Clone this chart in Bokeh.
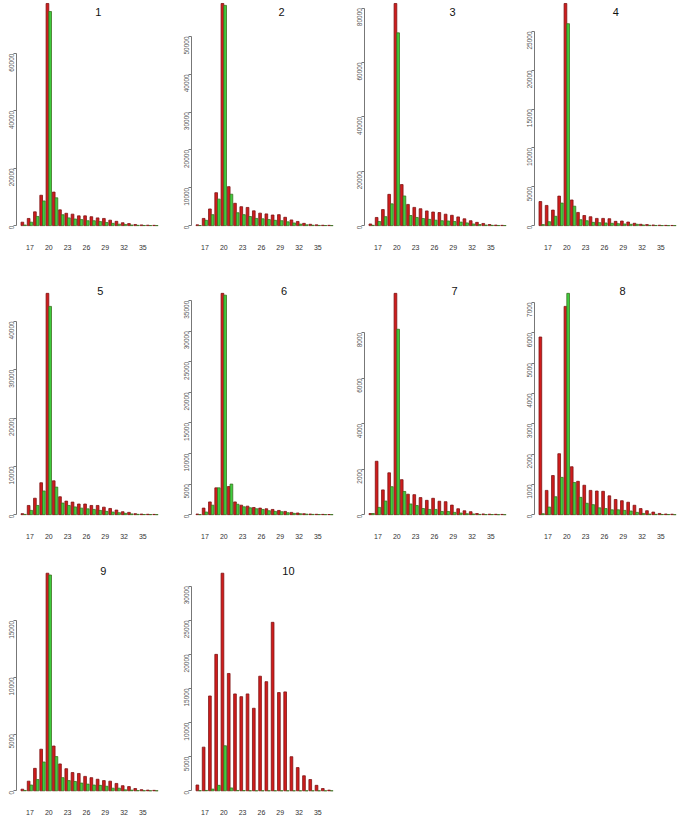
import math
from bokeh.plotting import figure
from bokeh.layouts import column, row
from bokeh.models import FixedTicker, Label, Range1d, ColumnDataSource
from bokeh.transform import dodge
from bokeh.embed import file_html
from bokeh.resources import INLINE

# ---------------- data ----------------
categories = list(range(16, 38))
xtick_labels = [17, 20, 23, 26, 29, 32, 35]
panel_titles = ["1", "2", "3", "4", "5", "6", "7", "8", "9", "10"]

red_1 = [1200, 2500, 4800, 10600, 77500, 11700, 5500, 4300, 4000, 3400, 3400, 3100, 2700, 2500, 1900, 1500, 1000, 700, 400, 250, 150, 100]
green_1 = [200, 1200, 3200, 8600, 74700, 9700, 3800, 2700, 2300, 2100, 1700, 1700, 1400, 1100, 800, 500, 400, 200, 100, 50, 30, 20]
red_2 = [200, 1900, 4400, 8700, 58700, 10300, 5900, 5000, 4800, 3900, 3300, 3100, 2800, 2900, 2200, 1500, 1100, 600, 350, 200, 100, 80]
green_2 = [30, 1400, 2900, 7000, 58200, 8300, 3400, 2900, 2400, 1900, 1800, 1600, 1400, 1300, 1000, 700, 400, 200, 100, 50, 30, 10]
red_3 = [600, 3000, 5900, 11500, 81700, 15100, 7800, 6700, 6200, 5400, 5000, 4800, 4200, 3800, 3200, 2500, 1800, 1200, 800, 400, 200, 100]
green_3 = [100, 1500, 3300, 8000, 70900, 10900, 3700, 3000, 2600, 2300, 2000, 1800, 1700, 1500, 1300, 1000, 600, 400, 200, 100, 50, 30]
red_4 = [3100, 2600, 2000, 3800, 28600, 3300, 1700, 1300, 1140, 930, 930, 890, 550, 590, 460, 300, 170, 130, 80, 50, 30, 20]
green_4 = [130, 500, 1200, 2900, 26000, 2500, 760, 630, 420, 380, 340, 300, 250, 210, 170, 170, 80, 40, 20, 10, 5, 5]
red_5 = [200, 1900, 3400, 6600, 45800, 7000, 3700, 2800, 2600, 2200, 2200, 1900, 1900, 1550, 1280, 950, 600, 470, 200, 120, 80, 50]
green_5 = [50, 880, 1900, 4900, 43100, 5700, 2400, 1900, 1600, 1350, 1200, 1080, 880, 680, 540, 400, 270, 150, 60, 30, 20, 10]
red_6 = [100, 1070, 2080, 4380, 36200, 4600, 2080, 1550, 1390, 1170, 1070, 960, 850, 690, 530, 370, 270, 150, 100, 60, 40, 20]
green_6 = [10, 430, 1550, 4380, 35900, 5000, 1700, 1280, 1120, 960, 850, 640, 530, 480, 320, 210, 150, 80, 40, 20, 10, 5]
red_7 = [50, 2350, 1090, 1840, 9740, 1540, 900, 880, 750, 630, 720, 590, 570, 420, 260, 170, 130, 50, 30, 20, 15, 10]
green_7 = [50, 320, 600, 1230, 8160, 1020, 470, 400, 270, 230, 230, 140, 140, 100, 70, 40, 30, 10, 5, 5, 0, 0]
red_8 = [5860, 800, 1290, 2010, 6870, 1580, 1100, 970, 800, 780, 770, 620, 500, 460, 410, 310, 200, 130, 85, 40, 20, 15]
green_8 = [30, 250, 590, 1230, 7300, 1060, 570, 375, 330, 225, 200, 160, 160, 140, 120, 75, 40, 20, 10, 5, 5, 0]
red_9 = [140, 850, 1980, 3670, 19200, 3950, 2370, 1950, 1610, 1530, 1270, 1160, 1020, 900, 850, 650, 450, 370, 200, 100, 60, 40]
green_9 = [30, 510, 990, 2540, 19040, 3020, 1160, 900, 820, 680, 590, 510, 480, 400, 230, 230, 85, 60, 20, 10, 5, 5]
red_10 = [850, 6400, 13900, 20000, 31900, 17200, 14200, 13800, 14200, 12100, 16800, 16000, 24700, 14400, 14500, 5000, 3400, 2200, 1650, 800, 330, 100]
green_10 = [20, 50, 250, 800, 6600, 420, 50, 30, 10, 5, 5, 5, 5, 5, 5, 0, 0, 0, 0, 0, 0, 0]

reds = [red_1, red_2, red_3, red_4, red_5, red_6, red_7, red_8, red_9, red_10]
greens = [green_1, green_2, green_3, green_4, green_5, green_6, green_7, green_8, green_9, green_10]

# y axis ticks (step, last tick shown)
ytick_step = [20000, 10000, 20000, 5000, 10000, 5000, 2000, 1000, 5000, 5000]
ytick_last = [60000, 50000, 80000, 25000, 40000, 35000, 8000, 7000, 15000, 30000]

# ---------------- layout / style ----------------
RED_FILL, RED_LINE = "#d01c1c", "#7d1414"
GREEN_FILL, GREEN_LINE = "#3fce3f", "#3c7020"
col_left = [16, 29, 27, 24]
frame_w = 146
x_lo, x_hi = 14.85, 38.13
title_x = [27.9, 29.2, 28.9, 27.8, 28.2, 29.6, 29.2, 28.9, 28.7, 30.3]
row_frame_h = [234, 239, 238]
row_top = [0, 10, 10]
row_bottom = [40, 31, 15]
row_top_frac = [1.0135, 1.04, 1.04]
row_title_frac = [0.05, 0.026, 0.026]

figs = []
for i in range(10):
    r, c = divmod(i, 4)
    M = max(max(reds[i]), max(greens[i]))
    lo, hi = -0.04 * M, row_top_frac[r] * M
    w = col_left[c] + frame_w
    h = row_top[r] + row_frame_h[r] + row_bottom[r]
    p = figure(width=w, height=h, output_backend="svg", toolbar_location=None,
               x_range=Range1d(x_lo, x_hi), y_range=Range1d(lo, hi),
               min_border_left=col_left[c], min_border_right=0,
               min_border_top=row_top[r], min_border_bottom=row_bottom[r],
               outline_line_color=None, background_fill_color="white",
               border_fill_color="white")
    p.xgrid.visible = False
    p.ygrid.visible = False

    src = ColumnDataSource(dict(cat=categories, red=reds[i], green=greens[i]))
    p.vbar(x=dodge("cat", -0.215), top="red", bottom=0, width=0.43, source=src,
           fill_color=RED_FILL, line_color=RED_LINE, line_width=0.8)
    p.vbar(x=dodge("cat", 0.215), top="green", bottom=0, width=0.43, source=src,
           fill_color=GREEN_FILL, line_color=GREEN_LINE, line_width=0.8)

    # x axis: labels only
    xa = p.xaxis[0]
    xa.ticker = FixedTicker(ticks=xtick_labels)
    xa.axis_line_color = None
    xa.major_tick_line_color = None
    xa.minor_tick_line_color = None
    xa.major_label_standoff = 4
    xa.major_label_text_font = "Liberation Sans"
    xa.major_label_text_font_size = "7px"
    xa.major_label_text_color = "#333333"

    # y axis: R-style
    ya = p.yaxis[0]
    ya.ticker = FixedTicker(ticks=list(range(0, ytick_last[i] + 1, ytick_step[i])))
    ya.bounds = (0, ytick_last[i])
    ya.axis_line_color = "#777777"
    ya.axis_line_width = 1
    ya.major_tick_line_color = "#777777"
    ya.major_tick_out = 3
    ya.major_tick_in = 0
    ya.minor_tick_line_color = None
    ya.major_label_orientation = math.pi / 2
    ya.major_label_standoff = 2
    ya.major_label_text_font = "Liberation Sans"
    ya.major_label_text_font_size = "6.5px"
    ya.major_label_text_color = "#555555"

    ty = hi - row_title_frac[r] * (hi - lo)
    p.add_layout(Label(x=title_x[i], y=ty, text=panel_titles[i],
                       text_align="center", text_baseline="middle",
                       text_font="Liberation Sans", text_font_size="11px",
                       text_color="#111111"))
    figs.append(p)

layout = column(row(*figs[0:4]), row(*figs[4:8]), row(*figs[8:10]))
open("out.html", "w").write(file_html(layout, INLINE))
